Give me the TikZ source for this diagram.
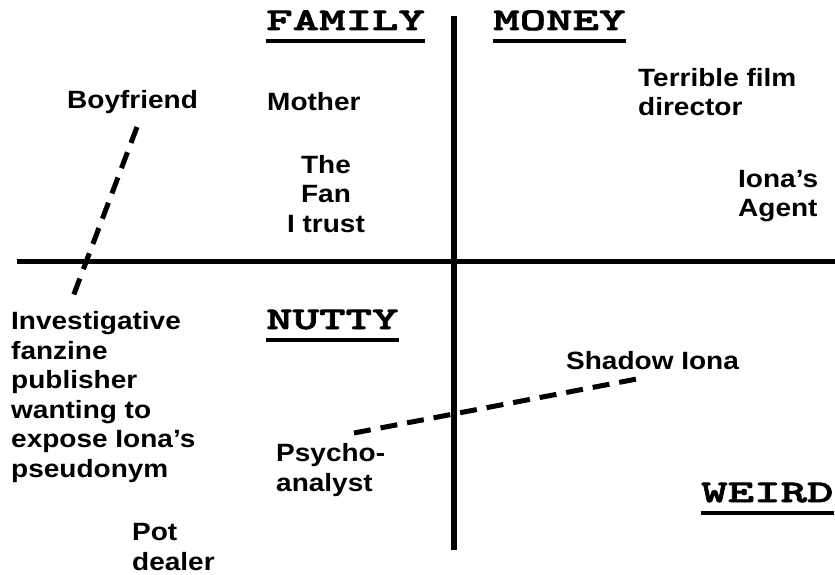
\documentclass[tikz,border=0pt]{standalone}
\usepackage{fontspec}
\setmainfont{Liberation Sans}[FakeStretch=1.12]
\newfontfamily\titlefont{lmmonolt10-bold.otf}[FakeStretch=1.6,FakeBold=2.2]
\begin{document}
\begin{tikzpicture}[x=1pt,y=-1pt,
  lab/.style={inner sep=0pt,font=\fontsize{25}{29.5}\selectfont\bfseries,anchor=west,align=left},
  ttl/.style={inner sep=0pt,font=\fontsize{31.5}{35}\selectfont\titlefont,anchor=base west},
  axis/.style={line width=5pt},
  uline/.style={line width=4pt},
  dsh/.style={line width=5pt,dash pattern=on 17pt off 10pt}]
\useasboundingbox (0,0) rectangle (835,575);
% axes
\coordinate (vt) at (454,16);
\coordinate (vb) at (454,550);
\coordinate (hl) at (17,261);
\coordinate (hr) at (835,261);
\draw[axis,line width=6pt] (vt) -- (vb);
\draw[axis] (hl) -- (hr);
% titles
\node[ttl] (fam) at (266,30) {FAMILY};
\node[ttl] (mon) at (493,30) {MONEY};
\node[ttl] (nut) at (266,329) {NUTTY};
\node[ttl] (wei) at (701,502) {WEIRD};
\foreach \t in {fam,mon,nut,wei}
  \draw[uline] ([yshift=-11pt]\t.base west) -- ([yshift=-11pt]\t.base east);
% labels
\node[lab] (boy) at (67,102) {Boyfriend};
\node[lab] (mot) at (267,102) {Mother};
\node[lab,anchor=center,align=center] (fan) at (326,194) {The\\Fan\\I trust};
\node[lab] (dir) at (638,92) {Terrible film\\director};
\node[lab] (age) at (738,196) {Iona’s\\Agent};
\node[lab] (inv) at (11,397) {Investigative\\fanzine\\publisher\\wanting to\\expose Iona’s\\pseudonym};
\node[lab] (psy) at (276,470) {Psycho-\\analyst};
\node[lab] (sha) at (566,361) {Shadow Iona};
\node[lab] (pot) at (132,547) {Pot\\dealer};
% dashed links
\coordinate (b1) at (137,127);
\coordinate (b2) at (71,302);
\coordinate (p1) at (354,433);
\coordinate (p2) at (642,378);
\draw[dsh] (b1) -- (b2);
\draw[dsh] (p1) -- (p2);
\end{tikzpicture}
\end{document}
